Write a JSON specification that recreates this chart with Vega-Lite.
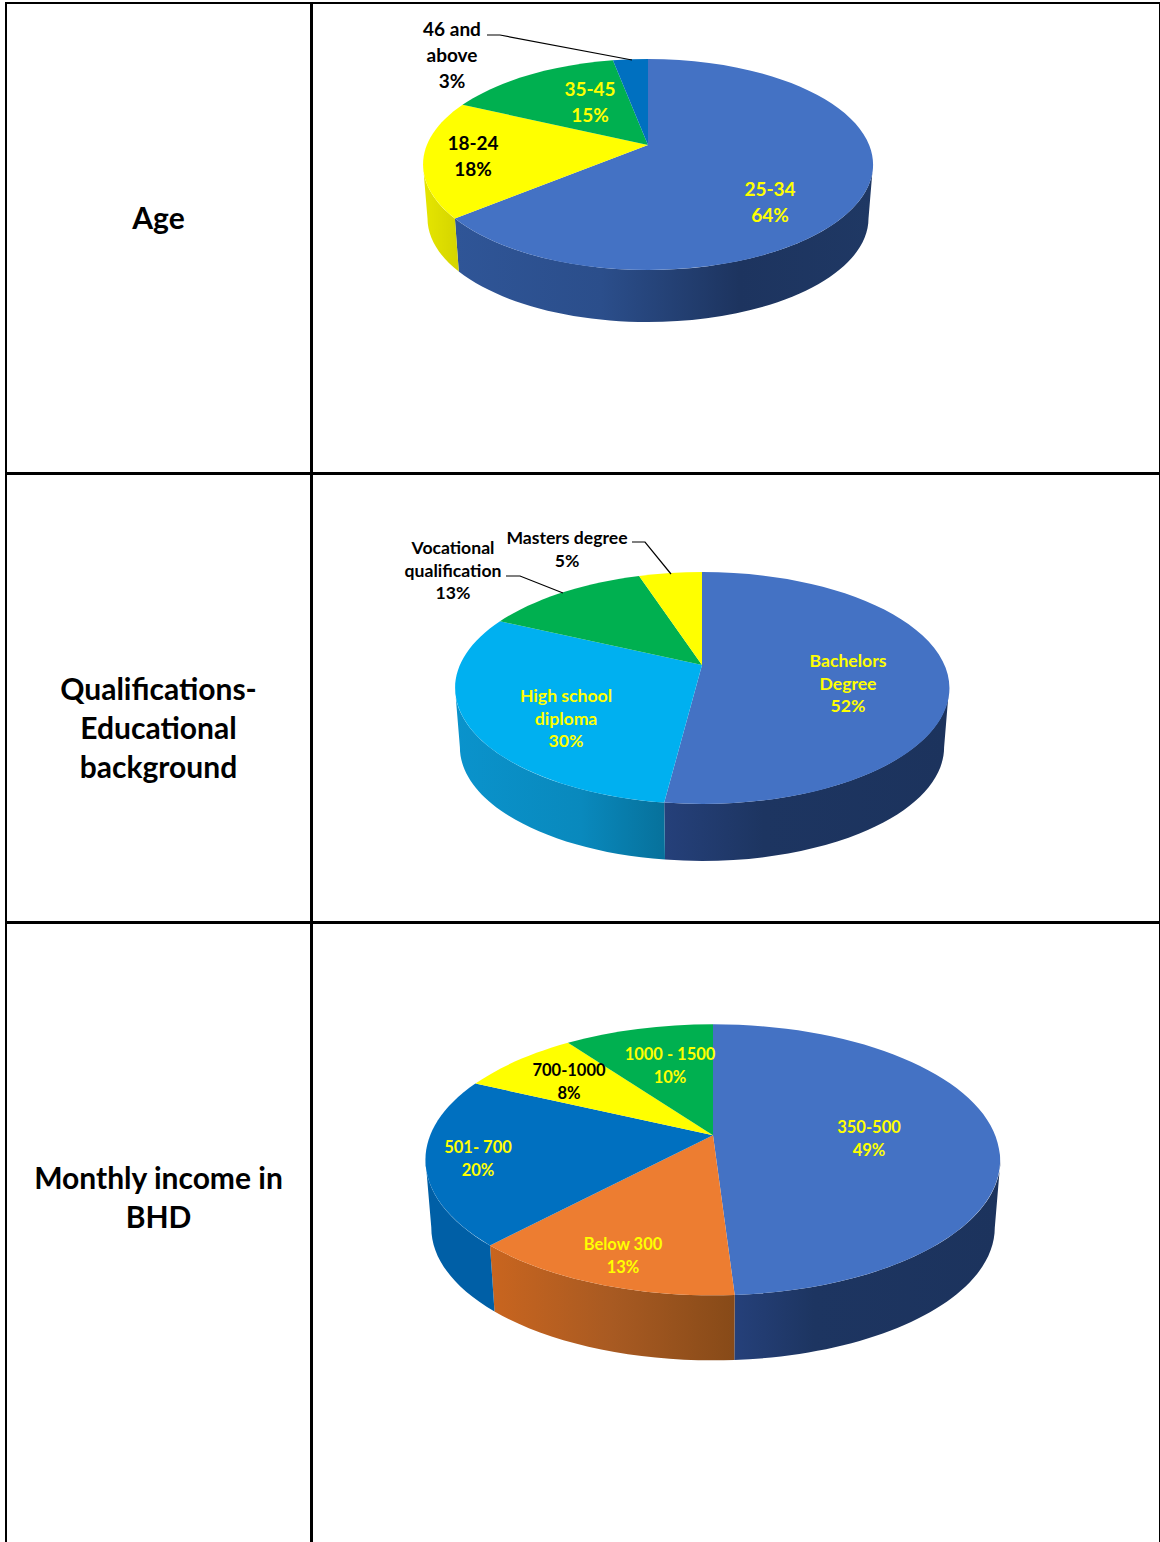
{
  "$schema": "https://vega.github.io/schema/vega-lite/v6.json",
  "background": "white",
  "padding": {"left": 5, "top": 2, "right": 0, "bottom": 0},
  "config": {
    "view": {"stroke": "black", "strokeWidth": 2},
    "text": {"font": "Lato", "fontWeight": "bold"}
  },
  "columns": 2,
  "spacing": -2,
  "align": "each",
  "resolve": {"scale": {"fill": "independent"}},
  "concat": [
    {
      "width": 305, "height": 470,
      "data": {"values": [{"heading": "Age"}]},
      "mark": {"type": "text", "fontSize": 30, "lineBreak": "|", "lineHeight": 39, "color": "black"},
      "encoding": {
        "x": {"datum": 0, "type": "quantitative", "scale": {"domain": [-152.5, 152.5]}, "axis": null},
        "y": {"datum": 0, "type": "quantitative", "scale": {"domain": [253, -217]}, "axis": null},
        "text": {"field": "heading"}
      }
    },
    {
      "width": 848, "height": 470,
      "data": {"values": [
        {"group": "25-34", "share": 64},
        {"group": "18-24", "share": 18},
        {"group": "35-45", "share": 15},
        {"group": "46 and|above", "share": 3}
      ]},
      "transform": [
        {"stack": "share", "groupby": [], "as": ["s0", "s1"]},
        {"calculate": "221.1", "as": "W"},
        {"calculate": "0.1848", "as": "k"},
        {"calculate": "101.9", "as": "A"},
        {"calculate": "225", "as": "rx"},
        {"calculate": "105.5", "as": "ry"},
        {"calculate": "54.5", "as": "d"},
        {"calculate": "0.98", "as": "c"},
        {"calculate": "2*PI*datum.s0/100", "as": "t0"},
        {"calculate": "2*PI*datum.s1/100", "as": "t1"},
        {"calculate": "round(10*datum.W*sin(datum.t0)/(1+datum.k*cos(datum.t0)))/10", "as": "x0"},
        {"calculate": "round(-10*datum.A*cos(datum.t0)/(1+datum.k*cos(datum.t0)))/10", "as": "y0"},
        {"calculate": "round(10*datum.W*sin(datum.t1)/(1+datum.k*cos(datum.t1)))/10", "as": "x1"},
        {"calculate": "round(-10*datum.A*cos(datum.t1)/(1+datum.k*cos(datum.t1)))/10", "as": "y1"},
        {"calculate": "'M0,0L'+datum.x0+','+datum.y0+'A'+datum.rx+','+datum.ry+' 0 '+(datum.share>50?1:0)+' 1 '+datum.x1+','+datum.y1+'Z'", "as": "face"},
        {"calculate": "max(datum.t0,acos(-datum.k))", "as": "r0"},
        {"calculate": "min(datum.t1,2*PI-acos(-datum.k))", "as": "r1"},
        {"calculate": "round(10*datum.W*sin(datum.r0)/(1+datum.k*cos(datum.r0)))/10", "as": "ax"},
        {"calculate": "round(-10*datum.A*cos(datum.r0)/(1+datum.k*cos(datum.r0)))/10", "as": "ay"},
        {"calculate": "round(10*datum.W*sin(datum.r1)/(1+datum.k*cos(datum.r1)))/10", "as": "bx"},
        {"calculate": "round(-10*datum.A*cos(datum.r1)/(1+datum.k*cos(datum.r1)))/10", "as": "by"},
        {"calculate": "'M'+datum.ax+','+datum.ay+'A'+datum.rx+','+datum.ry+' 0 0 1 '+datum.bx+','+datum.by+'L'+round(10*datum.c*datum.bx)/10+','+round(10*(datum.c*datum.by+datum.d))/10+'A'+round(10*datum.c*datum.rx)/10+','+round(10*datum.c*datum.ry)/10+' 0 0 0 '+round(10*datum.c*datum.ax)/10+','+round(10*(datum.c*datum.ay+datum.d))/10+'Z'", "as": "rim"}
      ],
      "layer": [
        {
          "transform": [{"filter": "datum.group==='25-34'"}],
          "mark": {"type": "point", "filled": true, "size": 4, "opacity": 1, "strokeOpacity": 0,
            "fill": {"gradient": "linear", "x1": 0, "x2": 1, "y1": 0, "y2": 0, "stops": [{"offset": 0, "color": "#2f5597"}, {"offset": 0.35, "color": "#2b4e8b"}, {"offset": 0.68, "color": "#1d345f"}, {"offset": 1, "color": "#1f3864"}]}},
          "encoding": {
            "x": {"datum": 0, "type": "quantitative", "scale": {"domain": [-336, 512]}, "axis": null},
            "y": {"datum": 0, "type": "quantitative", "scale": {"domain": [328, -142]}, "axis": null},
            "shape": {"field": "rim", "type": "nominal", "scale": null}
          }
        },
        {
          "transform": [{"filter": "datum.group==='18-24'"}],
          "mark": {"type": "point", "filled": true, "size": 4, "opacity": 1, "strokeOpacity": 0,
            "fill": {"gradient": "linear", "x1": 0, "x2": 1, "y1": 0, "y2": 0, "stops": [{"offset": 0, "color": "#e6e600"}, {"offset": 1, "color": "#d4d400"}]}},
          "encoding": {
            "x": {"datum": 0, "type": "quantitative", "scale": {"domain": [-336, 512]}, "axis": null},
            "y": {"datum": 0, "type": "quantitative", "scale": {"domain": [328, -142]}, "axis": null},
            "shape": {"field": "rim", "type": "nominal", "scale": null}
          }
        },
        {
          "mark": {"type": "point", "filled": true, "size": 4, "opacity": 1, "strokeOpacity": 0},
          "encoding": {
            "x": {"datum": 0, "type": "quantitative", "scale": {"domain": [-336, 512]}, "axis": null},
            "y": {"datum": 0, "type": "quantitative", "scale": {"domain": [328, -142]}, "axis": null},
            "shape": {"field": "face", "type": "nominal", "scale": null},
            "fill": {"field": "group", "type": "nominal", "legend": null, "scale": {
              "domain": ["25-34", "18-24", "35-45", "46 and|above"],
              "range": ["#4472c4", "#ffff00", "#00b050", "#0070c0"]
            }}
          }
        },
        {
          "transform": [
            {"calculate": "{'46 and|above':'M-161,-110L-148,-110L-16,-85'}[datum.group]", "as": "leader"},
            {"filter": "isValid(datum.leader)"}
          ],
          "mark": {"type": "point", "filled": false, "size": 4, "opacity": 1, "stroke": "black", "strokeWidth": 1.2},
          "encoding": {
            "x": {"datum": 0, "type": "quantitative", "scale": {"domain": [-336, 512]}, "axis": null},
            "y": {"datum": 0, "type": "quantitative", "scale": {"domain": [328, -142]}, "axis": null},
            "shape": {"field": "leader", "type": "nominal", "scale": null}
          }
        },
        {
          "transform": [
            {"calculate": "{'25-34':122,'18-24':-175,'35-45':-58,'46 and|above':-196}[datum.group]", "as": "lx"},
            {"calculate": "{'25-34':45,'18-24':-1,'35-45':-55,'46 and|above':-115}[datum.group]", "as": "ly"},
            {"calculate": "datum.group+'|'+datum.share+'%'", "as": "caption"}
          ],
          "mark": {"type": "text", "fontSize": 19, "lineBreak": "|", "lineHeight": 26},
          "encoding": {
            "x": {"field": "lx", "type": "quantitative", "scale": {"domain": [-336, 512]}, "axis": null},
            "y": {"field": "ly", "type": "quantitative", "scale": {"domain": [328, -142]}, "axis": null},
            "text": {"field": "caption"},
            "color": {"condition": {"test": "indexof(['18-24','46 and|above'],datum.group)>=0", "value": "black"}, "value": "#ffff00"}
          }
        }
      ]
    },
    {
      "width": 305, "height": 448,
      "data": {"values": [{"heading": "Qualifications-|Educational|background"}]},
      "mark": {"type": "text", "fontSize": 30, "lineBreak": "|", "lineHeight": 39, "color": "black"},
      "encoding": {
        "x": {"datum": 0, "type": "quantitative", "scale": {"domain": [-152.5, 152.5]}, "axis": null},
        "y": {"datum": 0, "type": "quantitative", "scale": {"domain": [231, -217]}, "axis": null},
        "text": {"field": "heading"}
      }
    },
    {
      "width": 848, "height": 448,
      "data": {"values": [
        {"group": "Bachelors|Degree", "share": 52},
        {"group": "High school|diploma", "share": 30},
        {"group": "Vocational|qualification", "share": 13},
        {"group": "Masters degree", "share": 5}
      ]},
      "transform": [
        {"stack": "share", "groupby": [], "as": ["s0", "s1"]},
        {"calculate": "242.1", "as": "W"},
        {"calculate": "0.1983", "as": "k"},
        {"calculate": "111.4", "as": "A"},
        {"calculate": "247", "as": "rx"},
        {"calculate": "116", "as": "ry"},
        {"calculate": "59.8", "as": "d"},
        {"calculate": "0.98", "as": "c"},
        {"calculate": "2*PI*datum.s0/100", "as": "t0"},
        {"calculate": "2*PI*datum.s1/100", "as": "t1"},
        {"calculate": "round(10*datum.W*sin(datum.t0)/(1+datum.k*cos(datum.t0)))/10", "as": "x0"},
        {"calculate": "round(-10*datum.A*cos(datum.t0)/(1+datum.k*cos(datum.t0)))/10", "as": "y0"},
        {"calculate": "round(10*datum.W*sin(datum.t1)/(1+datum.k*cos(datum.t1)))/10", "as": "x1"},
        {"calculate": "round(-10*datum.A*cos(datum.t1)/(1+datum.k*cos(datum.t1)))/10", "as": "y1"},
        {"calculate": "'M0,0L'+datum.x0+','+datum.y0+'A'+datum.rx+','+datum.ry+' 0 '+(datum.share>50?1:0)+' 1 '+datum.x1+','+datum.y1+'Z'", "as": "face"},
        {"calculate": "max(datum.t0,acos(-datum.k))", "as": "r0"},
        {"calculate": "min(datum.t1,2*PI-acos(-datum.k))", "as": "r1"},
        {"calculate": "round(10*datum.W*sin(datum.r0)/(1+datum.k*cos(datum.r0)))/10", "as": "ax"},
        {"calculate": "round(-10*datum.A*cos(datum.r0)/(1+datum.k*cos(datum.r0)))/10", "as": "ay"},
        {"calculate": "round(10*datum.W*sin(datum.r1)/(1+datum.k*cos(datum.r1)))/10", "as": "bx"},
        {"calculate": "round(-10*datum.A*cos(datum.r1)/(1+datum.k*cos(datum.r1)))/10", "as": "by"},
        {"calculate": "'M'+datum.ax+','+datum.ay+'A'+datum.rx+','+datum.ry+' 0 0 1 '+datum.bx+','+datum.by+'L'+round(10*datum.c*datum.bx)/10+','+round(10*(datum.c*datum.by+datum.d))/10+'A'+round(10*datum.c*datum.rx)/10+','+round(10*datum.c*datum.ry)/10+' 0 0 0 '+round(10*datum.c*datum.ax)/10+','+round(10*(datum.c*datum.ay+datum.d))/10+'Z'", "as": "rim"}
      ],
      "layer": [
        {
          "transform": [{"filter": "datum.group==='Bachelors|Degree'"}],
          "mark": {"type": "point", "filled": true, "size": 4, "opacity": 1, "strokeOpacity": 0,
            "fill": {"gradient": "linear", "x1": 0, "x2": 1, "y1": 0, "y2": 0, "stops": [{"offset": 0, "color": "#25407a"}, {"offset": 0.35, "color": "#1d3561"}, {"offset": 1, "color": "#1c335d"}]}},
          "encoding": {
            "x": {"datum": 0, "type": "quantitative", "scale": {"domain": [-390, 458]}, "axis": null},
            "y": {"datum": 0, "type": "quantitative", "scale": {"domain": [257, -191]}, "axis": null},
            "shape": {"field": "rim", "type": "nominal", "scale": null}
          }
        },
        {
          "transform": [{"filter": "datum.group==='High school|diploma'"}],
          "mark": {"type": "point", "filled": true, "size": 4, "opacity": 1, "strokeOpacity": 0,
            "fill": {"gradient": "linear", "x1": 0, "x2": 1, "y1": 0, "y2": 0, "stops": [{"offset": 0, "color": "#0a93cc"}, {"offset": 0.6, "color": "#0989bd"}, {"offset": 1, "color": "#07719b"}]}},
          "encoding": {
            "x": {"datum": 0, "type": "quantitative", "scale": {"domain": [-390, 458]}, "axis": null},
            "y": {"datum": 0, "type": "quantitative", "scale": {"domain": [257, -191]}, "axis": null},
            "shape": {"field": "rim", "type": "nominal", "scale": null}
          }
        },
        {
          "mark": {"type": "point", "filled": true, "size": 4, "opacity": 1, "strokeOpacity": 0},
          "encoding": {
            "x": {"datum": 0, "type": "quantitative", "scale": {"domain": [-390, 458]}, "axis": null},
            "y": {"datum": 0, "type": "quantitative", "scale": {"domain": [257, -191]}, "axis": null},
            "shape": {"field": "face", "type": "nominal", "scale": null},
            "fill": {"field": "group", "type": "nominal", "legend": null, "scale": {
              "domain": ["Bachelors|Degree", "High school|diploma", "Vocational|qualification", "Masters degree"],
              "range": ["#4472c4", "#00b0f0", "#00b050", "#ffff00"]
            }}
          }
        },
        {
          "transform": [
            {"calculate": "{'Vocational|qualification':'M-196,-89L-182,-89L-139,-72','Masters degree':'M-70,-123L-57,-123L-31,-91'}[datum.group]", "as": "leader"},
            {"filter": "isValid(datum.leader)"}
          ],
          "mark": {"type": "point", "filled": false, "size": 4, "opacity": 1, "stroke": "black", "strokeWidth": 1.2},
          "encoding": {
            "x": {"datum": 0, "type": "quantitative", "scale": {"domain": [-390, 458]}, "axis": null},
            "y": {"datum": 0, "type": "quantitative", "scale": {"domain": [257, -191]}, "axis": null},
            "shape": {"field": "leader", "type": "nominal", "scale": null}
          }
        },
        {
          "transform": [
            {"calculate": "{'Bachelors|Degree':146,'High school|diploma':-136,'Vocational|qualification':-249,'Masters degree':-135}[datum.group]", "as": "lx"},
            {"calculate": "{'Bachelors|Degree':-3,'High school|diploma':32,'Vocational|qualification':-116,'Masters degree':-126}[datum.group]", "as": "ly"},
            {"calculate": "datum.group+'|'+datum.share+'%'", "as": "caption"}
          ],
          "mark": {"type": "text", "fontSize": 17.6, "lineBreak": "|", "lineHeight": 22.5},
          "encoding": {
            "x": {"field": "lx", "type": "quantitative", "scale": {"domain": [-390, 458]}, "axis": null},
            "y": {"field": "ly", "type": "quantitative", "scale": {"domain": [257, -191]}, "axis": null},
            "text": {"field": "caption"},
            "color": {"condition": {"test": "indexof(['Vocational|qualification','Masters degree'],datum.group)>=0", "value": "black"}, "value": "#ffff00"}
          }
        }
      ]
    },
    {
      "width": 305, "height": 621,
      "data": {"values": [{"heading": "Monthly income in|BHD"}]},
      "mark": {"type": "text", "fontSize": 30, "lineBreak": "|", "lineHeight": 39, "color": "black"},
      "encoding": {
        "x": {"datum": 0, "type": "quantitative", "scale": {"domain": [-152.5, 152.5]}, "axis": null},
        "y": {"datum": 0, "type": "quantitative", "scale": {"domain": [364, -257]}, "axis": null},
        "text": {"field": "heading"}
      }
    },
    {
      "width": 848, "height": 621,
      "data": {"values": [
        {"group": "350-500", "share": 49},
        {"group": "Below 300", "share": 13},
        {"group": "501- 700", "share": 20},
        {"group": "700-1000", "share": 8},
        {"group": "1000 - 1500", "share": 10}
      ]},
      "transform": [
        {"stack": "share", "groupby": [], "as": ["s0", "s1"]},
        {"calculate": "282.8", "as": "W"},
        {"calculate": "0.1807", "as": "k"},
        {"calculate": "131.1", "as": "A"},
        {"calculate": "287.5", "as": "rx"},
        {"calculate": "135.5", "as": "ry"},
        {"calculate": "68.2", "as": "d"},
        {"calculate": "0.98", "as": "c"},
        {"calculate": "2*PI*datum.s0/100", "as": "t0"},
        {"calculate": "2*PI*datum.s1/100", "as": "t1"},
        {"calculate": "round(10*datum.W*sin(datum.t0)/(1+datum.k*cos(datum.t0)))/10", "as": "x0"},
        {"calculate": "round(-10*datum.A*cos(datum.t0)/(1+datum.k*cos(datum.t0)))/10", "as": "y0"},
        {"calculate": "round(10*datum.W*sin(datum.t1)/(1+datum.k*cos(datum.t1)))/10", "as": "x1"},
        {"calculate": "round(-10*datum.A*cos(datum.t1)/(1+datum.k*cos(datum.t1)))/10", "as": "y1"},
        {"calculate": "'M0,0L'+datum.x0+','+datum.y0+'A'+datum.rx+','+datum.ry+' 0 '+(datum.share>50?1:0)+' 1 '+datum.x1+','+datum.y1+'Z'", "as": "face"},
        {"calculate": "max(datum.t0,acos(-datum.k))", "as": "r0"},
        {"calculate": "min(datum.t1,2*PI-acos(-datum.k))", "as": "r1"},
        {"calculate": "round(10*datum.W*sin(datum.r0)/(1+datum.k*cos(datum.r0)))/10", "as": "ax"},
        {"calculate": "round(-10*datum.A*cos(datum.r0)/(1+datum.k*cos(datum.r0)))/10", "as": "ay"},
        {"calculate": "round(10*datum.W*sin(datum.r1)/(1+datum.k*cos(datum.r1)))/10", "as": "bx"},
        {"calculate": "round(-10*datum.A*cos(datum.r1)/(1+datum.k*cos(datum.r1)))/10", "as": "by"},
        {"calculate": "'M'+datum.ax+','+datum.ay+'A'+datum.rx+','+datum.ry+' 0 0 1 '+datum.bx+','+datum.by+'L'+round(10*datum.c*datum.bx)/10+','+round(10*(datum.c*datum.by+datum.d))/10+'A'+round(10*datum.c*datum.rx)/10+','+round(10*datum.c*datum.ry)/10+' 0 0 0 '+round(10*datum.c*datum.ax)/10+','+round(10*(datum.c*datum.ay+datum.d))/10+'Z'", "as": "rim"}
      ],
      "layer": [
        {
          "transform": [{"filter": "datum.group==='350-500'"}],
          "mark": {"type": "point", "filled": true, "size": 4, "opacity": 1, "strokeOpacity": 0,
            "fill": {"gradient": "linear", "x1": 0, "x2": 1, "y1": 0, "y2": 0, "stops": [{"offset": 0, "color": "#25407a"}, {"offset": 0.3, "color": "#1d3561"}, {"offset": 1, "color": "#1c335d"}]}},
          "encoding": {
            "x": {"datum": 0, "type": "quantitative", "scale": {"domain": [-401, 447]}, "axis": null},
            "y": {"datum": 0, "type": "quantitative", "scale": {"domain": [408, -212]}, "axis": null},
            "shape": {"field": "rim", "type": "nominal", "scale": null}
          }
        },
        {
          "transform": [{"filter": "datum.group==='Below 300'"}],
          "mark": {"type": "point", "filled": true, "size": 4, "opacity": 1, "strokeOpacity": 0,
            "fill": {"gradient": "linear", "x1": 0, "x2": 1, "y1": 0, "y2": 0, "stops": [{"offset": 0, "color": "#c9651f"}, {"offset": 0.5, "color": "#a85a22"}, {"offset": 1, "color": "#874a18"}]}},
          "encoding": {
            "x": {"datum": 0, "type": "quantitative", "scale": {"domain": [-401, 447]}, "axis": null},
            "y": {"datum": 0, "type": "quantitative", "scale": {"domain": [408, -212]}, "axis": null},
            "shape": {"field": "rim", "type": "nominal", "scale": null}
          }
        },
        {
          "transform": [{"filter": "datum.group==='501- 700'"}],
          "mark": {"type": "point", "filled": true, "size": 4, "opacity": 1, "strokeOpacity": 0, "fill": "#005fa6"},
          "encoding": {
            "x": {"datum": 0, "type": "quantitative", "scale": {"domain": [-401, 447]}, "axis": null},
            "y": {"datum": 0, "type": "quantitative", "scale": {"domain": [408, -212]}, "axis": null},
            "shape": {"field": "rim", "type": "nominal", "scale": null}
          }
        },
        {
          "mark": {"type": "point", "filled": true, "size": 4, "opacity": 1, "strokeOpacity": 0},
          "encoding": {
            "x": {"datum": 0, "type": "quantitative", "scale": {"domain": [-401, 447]}, "axis": null},
            "y": {"datum": 0, "type": "quantitative", "scale": {"domain": [408, -212]}, "axis": null},
            "shape": {"field": "face", "type": "nominal", "scale": null},
            "fill": {"field": "group", "type": "nominal", "legend": null, "scale": {
              "domain": ["350-500", "Below 300", "501- 700", "700-1000", "1000 - 1500"],
              "range": ["#4472c4", "#ed7d31", "#0070c0", "#ffff00", "#00b050"]
            }}
          }
        },
        {
          "transform": [
            {"calculate": "{'350-500':156,'Below 300':-90,'501- 700':-235,'700-1000':-144,'1000 - 1500':-43}[datum.group]", "as": "lx"},
            {"calculate": "{'350-500':-7,'Below 300':109,'501- 700':13,'700-1000':-64,'1000 - 1500':-80}[datum.group]", "as": "ly"},
            {"calculate": "datum.group+'|'+datum.share+'%'", "as": "caption"}
          ],
          "mark": {"type": "text", "fontSize": 16.5, "lineBreak": "|", "lineHeight": 23},
          "encoding": {
            "x": {"field": "lx", "type": "quantitative", "scale": {"domain": [-401, 447]}, "axis": null},
            "y": {"field": "ly", "type": "quantitative", "scale": {"domain": [408, -212]}, "axis": null},
            "text": {"field": "caption"},
            "color": {"condition": {"test": "datum.group==='700-1000'", "value": "black"}, "value": "#ffff00"}
          }
        }
      ]
    }
  ]
}
